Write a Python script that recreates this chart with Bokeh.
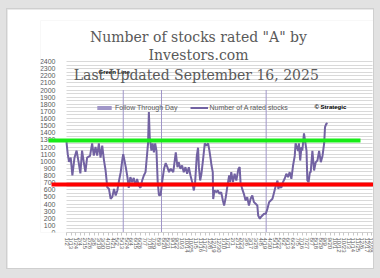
import datetime as dt
from bokeh.plotting import figure
from bokeh.models import (Range1d, FixedTicker, DatetimeTickFormatter, Label,
                          BoxAnnotation, Legend, LegendItem)
from bokeh.layouts import column
from bokeh.embed import file_html
from bokeh.resources import INLINE

# ---------------- data ----------------
START = dt.datetime(2024, 1, 2)
AXIS_DAYS = 728  # 1/2/2024 .. 12/30/2025

# days after 1/2/2024
day_offset = [0, 3, 6, 10, 14, 19, 24, 29, 33, 37, 41, 45, 49, 56, 61, 65, 69, 73, 77, 81,
              85, 89, 93, 97, 101, 105, 109, 113, 117, 121, 125, 129, 133, 135, 141, 145, 148,
              152, 156, 160, 164, 168, 172, 176, 180, 184, 188, 194, 196, 198, 202, 205, 208,
              211, 214, 217, 220, 224, 228, 232, 236, 240, 244, 248, 254, 260, 264, 267, 271,
              275, 279, 283, 287, 291, 295, 299, 303, 306, 310, 313, 315, 318, 321, 325, 329,
              333, 337, 340, 343, 345, 348, 349, 352, 357, 360, 364, 368, 372, 375, 379, 383,
              387, 389, 392, 396, 400, 404, 409, 412, 414, 418, 422, 426, 430, 434, 438, 442,
              446, 450, 454, 456, 460, 462, 466, 470, 474, 478, 482, 486, 490, 494, 498, 502,
              504, 507, 511, 515, 519, 523, 527, 531, 535, 539, 543, 545, 548, 551, 553, 556,
              559, 561, 565, 568, 571, 573, 576, 579, 581, 585, 589, 593, 597, 601, 605, 609,
              613, 615, 618, 621]
a_rated = [1267, 1100, 990, 1050, 800, 1050, 1150, 980, 830, 1150, 990, 850, 1050, 1075, 1250,
           1080, 1200, 1080, 1250, 1050, 1220, 1020, 870, 636, 612, 473, 500, 612, 520, 590,
           730, 847, 1030, 1100, 917, 777, 627, 777, 707, 767, 660, 750, 660, 627, 730, 800,
           847, 1250, 1690, 1340, 1150, 1250, 1125, 1250, 1150, 707, 520, 530, 730, 894, 975,
           917, 847, 894, 847, 1123, 917, 987, 894, 940, 847, 917, 824, 917, 800, 707, 590,
           707, 1075, 1190, 917, 730, 824, 1030, 1250, 1220, 1250, 1150, 1030, 940, 847, 470,
           590, 566, 590, 543, 566, 450, 379, 497, 660, 800, 707, 847, 707, 824, 730, 894,
           917, 707, 612, 543, 450, 497, 379, 473, 520, 426, 403, 380, 239, 192, 215, 239,
           262, 262, 332, 426, 450, 473, 566, 660, 730, 612, 660, 627, 707, 754, 824, 777,
           847, 754, 940, 1075, 1250, 1200, 1145, 1250, 1010, 1200, 1150, 1390, 1270, 1150,
           730, 707, 847, 847, 1145, 870, 987, 1010, 1145, 987, 1075, 1250, 1478, 1525, 1535]

ftd_offset = [135, 226, 475]          # follow-through days
ftd_value = [2000, 2000, 2000]

green_level = 1290
red_level = 675

y_ticks = list(range(0, 2401, 100))
y_grid = list(range(0, 2401, 50))
x_tick_step_days = 11

title_lines = ['Number of stocks rated "A" by', "Investors.com",
               "Last Updated  September 16, 2025"]

# ---------------- derived ----------------
EPOCH = dt.datetime(1970, 1, 1)
def ms(d):
    return (d - EPOCH).total_seconds() * 1000.0

MS_DAY = 86400000.0
dates = [START + dt.timedelta(days=d) for d in day_offset]
ftd_dates = [START + dt.timedelta(days=d) for d in ftd_offset]
END = START + dt.timedelta(days=AXIS_DAYS)
x_ticks = [ms(START + dt.timedelta(days=k)) for k in range(0, AXIS_DAYS + 1, x_tick_step_days)]

# layout (page pixels): axis from x=66 to 372, frame from x=40 to 373, top 20, bottom 232
AX_L, AX_R, FR_L, FR_R = 66, 372, 40, 373
FR_T, FR_B, AX_T = 20, 232, 61
DAYS_PER_PX = AXIS_DAYS / (AX_R - AX_L)
x_start = ms(START) - (AX_L - FR_L) * DAYS_PER_PX * MS_DAY
x_end = ms(END) + (FR_R - AX_R) * DAYS_PER_PX * MS_DAY
y_end = 2400 * (FR_B - FR_T) / (FR_B - AX_T)

def sx(px):  # page x -> frame screen x
    return px - FR_L

def sy(py):  # page y -> frame screen y (bottom-up)
    return FR_B - py

GRAY = "#595959"
LINE = "#7262a2"
FTD = "#a096c8"

p = figure(width=366, height=259, x_axis_type="datetime",
           x_range=Range1d(x_start, x_end), y_range=Range1d(0, y_end),
           output_backend="svg", toolbar_location=None,
           min_border_left=FR_L - 7, min_border_right=7 + 366 - FR_R,
           min_border_top=FR_T - 9, min_border_bottom=9 + 259 - FR_B)
p.margin = (9, 7, 10, 7)
p.styles = {"outline": "1px solid #cfcfcf"}
p.background_fill_color = "white"
p.border_fill_color = "white"
p.outline_line_color = None

p.xgrid.visible = False
p.ygrid.ticker = FixedTicker(ticks=y_grid)
p.ygrid.grid_line_color = "#d9d9d9"
p.ygrid.cross_bounds = (ms(START), ms(END))

p.yaxis.ticker = FixedTicker(ticks=y_ticks)
p.yaxis.bounds = (0, 2400)
p.yaxis.fixed_location = ms(START)
p.yaxis.axis_line_color = None
p.yaxis.major_tick_line_color = None
p.yaxis.minor_tick_line_color = None
p.yaxis.major_label_text_font = "Liberation Sans"
p.yaxis.major_label_text_font_size = "7px"
p.yaxis.major_label_text_color = GRAY
p.yaxis.major_label_standoff = 5

p.xaxis.ticker = FixedTicker(ticks=x_ticks)
p.xaxis.bounds = (ms(START), ms(END))
fmt = "%-m/%-d"
p.xaxis.formatter = DatetimeTickFormatter(milliseconds=fmt, seconds=fmt, minsec=fmt,
                                          minutes=fmt, hourmin=fmt, hours=fmt, days=fmt,
                                          months=fmt, years=fmt)
p.xaxis.major_label_orientation = "vertical"
p.xaxis.axis_line_color = "#d0d0d0"
p.xaxis.major_tick_line_color = "#c8c8c8"
p.xaxis.major_tick_in = 0
p.xaxis.major_tick_out = 3
p.xaxis.minor_tick_line_color = None
p.xaxis.major_label_text_font = "Liberation Sans"
p.xaxis.major_label_text_font_size = "6px"
p.xaxis.major_label_text_color = GRAY
p.xaxis.major_label_standoff = 2

# follow-through day columns
ftd_r = p.vbar(x=ftd_dates, top=ftd_value, width=DAYS_PER_PX * MS_DAY,
               fill_color=FTD, line_color=None)

line_r = p.line(dates, a_rated, line_color=LINE, line_width=2)

# threshold lines
p.add_layout(BoxAnnotation(top=green_level, bottom=green_level, left=sx(48), right=sx(360),
                           left_units="screen", right_units="screen",
                           fill_alpha=0, line_color="#18ec18", line_alpha=1,
                           line_width=4))
p.add_layout(BoxAnnotation(top=red_level, bottom=red_level, left=sx(51), right=sx(373),
                           left_units="screen", right_units="screen",
                           fill_alpha=0, line_color="#ff0000", line_alpha=1,
                           line_width=4))

legend = Legend(items=[LegendItem(label="Follow Through Day", renderers=[ftd_r]),
                       LegendItem(label="Number of A rated stocks", renderers=[line_r])],
                orientation="horizontal", location=(sx(95), sy(111)),
                glyph_width=18, glyph_height=5, label_height=8, label_standoff=2,
                spacing=12, padding=0, margin=0, border_line_color=None,
                background_fill_alpha=0, label_text_font="Liberation Sans",
                label_text_font_size="7px", label_text_color=GRAY)
p.add_layout(legend)

p.add_layout(Label(x=sx(314), y=sy(106), x_units="screen", y_units="screen",
                   text="© Strategic", text_font="Liberation Sans", text_font_size="6px",
                   text_font_style="bold", text_color="black", text_baseline="middle"))
p.add_layout(Label(x=sx(98), y=sy(71), x_units="screen", y_units="screen",
                   text="Green Line", text_font="Liberation Sans", text_font_size="6px",
                   text_font_style="bold", text_color="black", text_baseline="middle"))

for txt, py in zip(title_lines, [36, 54, 74]):
    p.add_layout(Label(x=sx(198), y=sy(py), x_units="screen", y_units="screen", text=txt,
                       text_font="DejaVu Serif", text_font_size="14px",
                       text_color=GRAY, text_align="center", text_baseline="middle"))

layout = column(p, width=380, height=278, styles={"background-color": "#e2e2e2"})
open("out.html", "w").write(file_html(layout, INLINE))
